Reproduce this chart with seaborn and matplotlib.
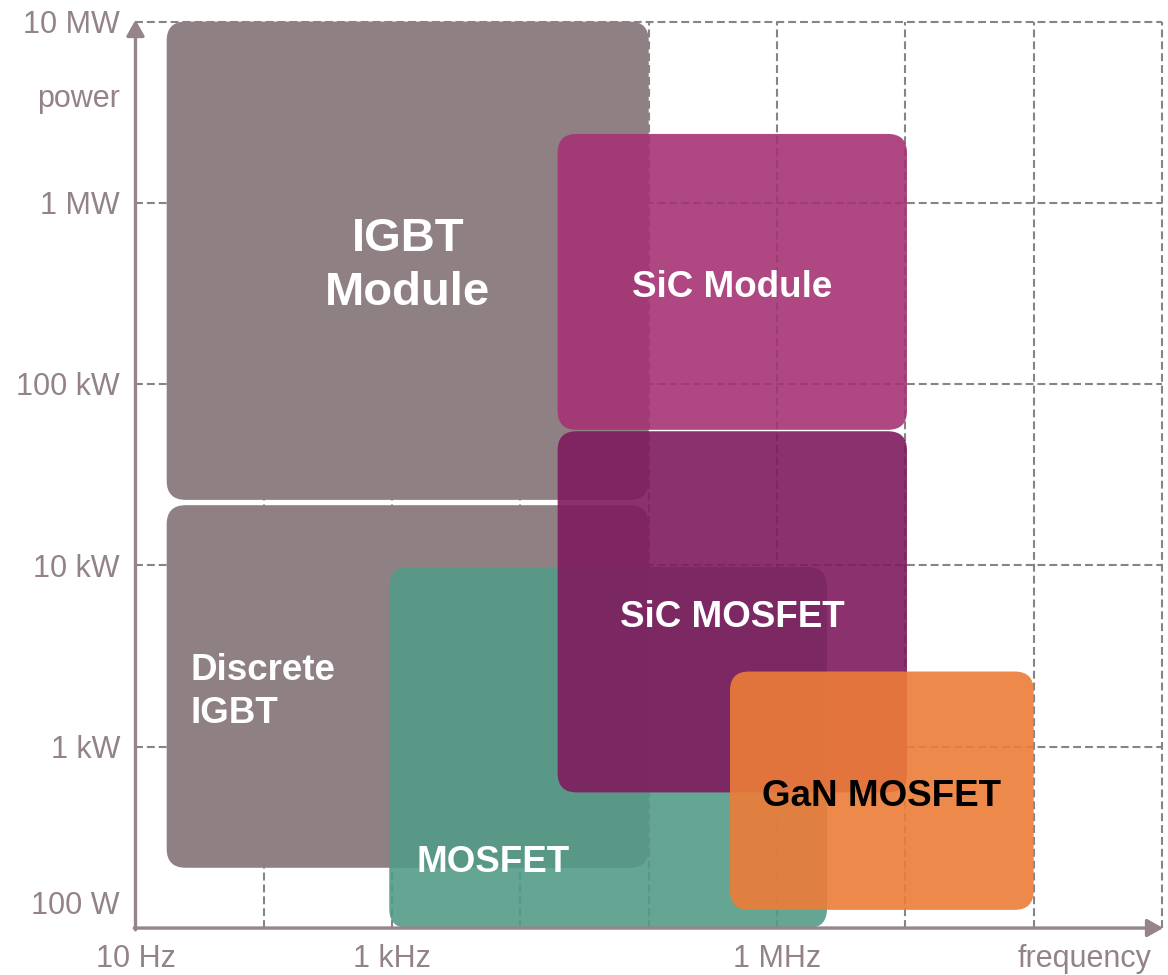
import numpy as np
import matplotlib
matplotlib.use("Agg")
import matplotlib.pyplot as plt
from matplotlib.patches import FancyBboxPatch
import seaborn as sns

# device families: frequency range (Hz) and power range (W)
devices = ["IGBT Module", "Discrete IGBT", "MOSFET", "SiC Module", "SiC MOSFET", "GaN MOSFET"]
box_text = ["IGBT\nModule", "Discrete\nIGBT", "MOSFET", "SiC Module", "SiC MOSFET", "GaN MOSFET"]
f_low = [17.5, 17.5, 950, 19.5e3, 19.5e3, 4.3e5]
f_high = [1.0e5, 1.0e5, 2.45e6, 1.03e7, 1.03e7, 1.0e8]
p_low = [2.3e4, 215, 100, 5.6e4, 5.6e2, 126]
p_high = [1.0e7, 2.15e4, 9.8e3, 2.4e6, 5.5e4, 2.6e3]

# axis labels
power_ticks = [1e7, 1e6, 1e5, 1e4, 1e3, 1e2]
power_labels = ["10 MW", "1 MW", "100 kW", "10 kW", "1 kW", "100 W"]
freq_ticks = [10, 1e3, 1e6]
freq_labels = ["10 Hz", "1 kHz", "1 MHz"]

# styling
colors = ["#8f8083", "#8f8083", "#539b88", "#a53374", "#7f1b5e", "#ed7c38"]
alphas = [1, 1, 0.9, 0.9, 0.9, 0.9]
text_colors = ["white", "white", "white", "white", "white", "black"]
label_col = "#948386"
axis_col = "#958588"
grid_col = "#858585"

sns.set_theme(style="white")
plt.rcParams["font.family"] = ["Liberation Sans", "DejaVu Sans"]

fig = plt.figure(figsize=(11.68, 9.75), dpi=100)
ax = fig.add_axes([0, 0, 1, 1])
# everything is drawn in decades (log10 of Hz / W)
ax.set_xlim(-0.056, 9.047)
ax.set_ylim(1.741, 7.119)
ax.axis("off")
sns.despine(ax=ax, left=True, bottom=True)

# dashed grid
ax.vlines(np.arange(2, 10), 2, 7, colors=grid_col, lw=1.5,
          linestyles=(0, (3.8, 1.9)), zorder=1)
ax.hlines(np.arange(3, 8), 1, 9, colors=grid_col, lw=1.5,
          linestyles=(0, (3.8, 1.9)), zorder=1)

# rounded boxes, corner radius ~19px in both directions
px_x = 1168 / (9.047 + 0.056)
px_y = 975 / (7.119 - 1.741)
r = 19 / px_x
dy = -0.03  # text nudge (va=center sits a bit high)
for i, name in enumerate(devices):
    x0, x1 = np.log10(f_low[i]), np.log10(f_high[i])
    y0, y1 = np.log10(p_low[i]), np.log10(p_high[i])
    box = FancyBboxPatch((x0, y0), x1 - x0, y1 - y0,
                         boxstyle=f"round,pad=0,rounding_size={r}",
                         mutation_aspect=px_x / px_y,
                         fc=colors[i], ec="none", alpha=alphas[i], zorder=2 + i)
    ax.add_patch(box)

    cx, cy = (x0 + x1) / 2, (y0 + y1) / 2 + dy
    ha = "center"
    size = 26.5
    spacing = 1.2
    if name == "IGBT Module":
        size, spacing = 34, 1.3
    elif name == "MOSFET":
        cx, cy = 3.79, 2.39 + dy
    elif name == "Discrete IGBT":
        cx, ha, spacing = 1.425, "left", 1.32
    ax.text(cx, cy, box_text[i], ha=ha, va="center", fontsize=size,
            fontweight="bold", color=text_colors[i], zorder=20,
            linespacing=spacing)

# axis arrows
arrow = dict(arrowstyle="-|>,head_length=0.8,head_width=0.45", color=axis_col,
             lw=2.4, shrinkA=0, shrinkB=0, mutation_scale=12)
ax.annotate("", xy=(1, 7.01), xytext=(1, 1.99), arrowprops=arrow, zorder=30)
ax.annotate("", xy=(9.01, 2), xytext=(0.99, 2), arrowprops=arrow, zorder=30)

# axis labels
ty = -0.017
for p, lab in zip(power_ticks, power_labels):
    y = np.log10(p) + ty
    if p == 100:
        y += 0.14
    ax.text(0.879, y, lab, ha="right", va="center", fontsize=22, color=label_col)
ax.text(0.879, 6.59 + ty, "power", ha="right", va="center", fontsize=22,
        color=label_col)
for f, lab in zip(freq_ticks, freq_labels):
    ax.text(np.log10(f), 1.83, lab, ha="center", va="center", fontsize=22,
            color=label_col)
ax.text(8.4, 1.83, "frequency", ha="center", va="center", fontsize=22,
        color=label_col)

fig.savefig("out.png", dpi=100)
